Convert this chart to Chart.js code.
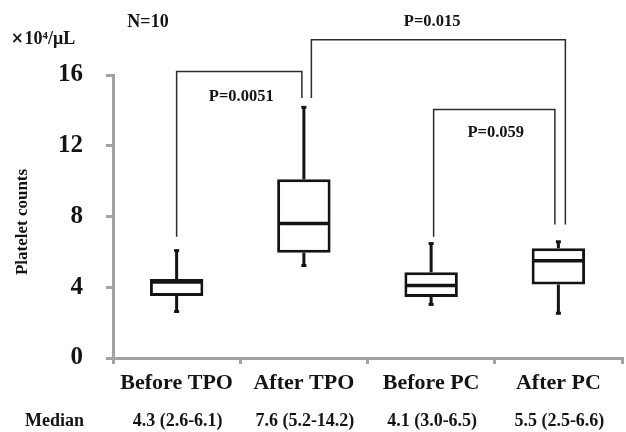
<!DOCTYPE html>
<html>
<head>
<meta charset="utf-8">
<script src="https://cdn.jsdelivr.net/npm/chart.js@4"></script>
<style>
html,body{margin:0;padding:0;background:#fff;}
canvas{display:block;}
</style>
</head>
<body>
<canvas id="c" width="626" height="432"></canvas>
<script>
const categories = ['Before TPO', 'After TPO', 'Before PC', 'After PC'];
const mins    = [2.6, 5.2, 3.0, 2.5];
const q1s     = [3.5, 5.95, 3.45, 4.15];
const medians = [4.3, 7.6, 4.1, 5.5];
const q3s     = [4.47, 10.1, 4.85, 6.2];
const maxs    = [6.1, 14.2, 6.5, 6.6];
const yTicks  = [0, 4, 8, 12, 16];
const sampleLabel = 'N=10';
const unitMult = '×';
const unitLabel = '10⁴/μL';
const yTitle = 'Platelet counts';
const medianRowTitle = 'Median';
// significance brackets
const bracketFrom   = [0, 1, 2];
const bracketTo     = [1, 3, 3];
const bracketTop    = [16.2, 18.0, 14.05];
const bracketLeftEnd  = [6.85, 14.7, 6.85];
const bracketRightEnd = [14.7, 7.55, 7.55];
const bracketLabels = ['P=0.0051', 'P=0.015', 'P=0.059'];
const bracketLabelY = [14.75, 19.0, 12.72];

const SERIF = '"Liberation Serif", "Times New Roman", serif';
const SANS = '"DejaVu Sans", sans-serif';
const INK = '#141414';
const AXIS = '#a3a3a3';

const boxPlugin = {
  id: 'boxExtras',
  beforeDatasetsDraw(chart) {
    const ctx = chart.ctx, xs = chart.scales.x, ys = chart.scales.y;
    ctx.save();
    ctx.strokeStyle = INK; ctx.fillStyle = INK; ctx.lineWidth = 3;
    categories.forEach((c, i) => {
      const x = xs.getPixelForValue(i);
      ctx.beginPath();
      ctx.moveTo(x, ys.getPixelForValue(q3s[i]));
      ctx.lineTo(x, ys.getPixelForValue(maxs[i]));
      ctx.moveTo(x, ys.getPixelForValue(q1s[i]));
      ctx.lineTo(x, ys.getPixelForValue(mins[i]));
      ctx.stroke();
      ctx.fillRect(x - 2.5, ys.getPixelForValue(maxs[i]) - 1, 5, 3);
      ctx.fillRect(x - 2.5, ys.getPixelForValue(mins[i]) - 2, 5, 3);
    });
    ctx.restore();
  },
  afterDatasetsDraw(chart) {
    const ctx = chart.ctx, xs = chart.scales.x, ys = chart.scales.y;
    const meta = chart.getDatasetMeta(0);
    ctx.save();
    // medians
    ctx.strokeStyle = INK; ctx.lineWidth = 3.5;
    categories.forEach((c, i) => {
      const bar = meta.data[i];
      const x = xs.getPixelForValue(i), w = bar.width;
      const y = ys.getPixelForValue(medians[i]);
      ctx.beginPath();
      ctx.moveTo(x - w / 2 + 1, y); ctx.lineTo(x + w / 2 - 1, y);
      ctx.stroke();
    });
    // brackets
    const legShift = [[0, -2], [7.5, 7], [2.5, -3.5]];
    ctx.strokeStyle = '#2b2b2b'; ctx.lineWidth = 1.5;
    bracketFrom.forEach((f, k) => {
      const xl = xs.getPixelForValue(f) + legShift[k][0];
      const xr = xs.getPixelForValue(bracketTo[k]) + legShift[k][1];
      const yt = ys.getPixelForValue(bracketTop[k]);
      ctx.beginPath();
      ctx.moveTo(xl, ys.getPixelForValue(bracketLeftEnd[k]));
      ctx.lineTo(xl, yt); ctx.lineTo(xr, yt);
      ctx.lineTo(xr, ys.getPixelForValue(bracketRightEnd[k]));
      ctx.stroke();
    });
    ctx.fillStyle = INK;
    ctx.textAlign = 'center'; ctx.textBaseline = 'middle';
    ctx.font = 'bold 16.5px ' + SERIF;
    bracketFrom.forEach((f, k) => {
      const xm = (xs.getPixelForValue(f) + xs.getPixelForValue(bracketTo[k])) / 2;
      ctx.fillText(bracketLabels[k], xm + 1, ys.getPixelForValue(bracketLabelY[k]));
    });
    // header texts
    ctx.font = 'bold 18px ' + SERIF;
    ctx.fillText(sampleLabel, 148, 22);
    ctx.textAlign = 'left';
    ctx.font = 'bold 15px ' + SANS;
    ctx.fillText(unitMult, 11, 39);
    const mw = ctx.measureText(unitMult).width;
    ctx.font = 'bold 18px ' + SERIF;
    ctx.fillText(unitLabel, 12 + mw, 39);
    // y title
    ctx.save();
    ctx.translate(23, 222);
    ctx.rotate(-Math.PI / 2);
    ctx.textAlign = 'center';
    ctx.font = 'bold 17px ' + SERIF;
    ctx.fillText(yTitle, 0, 0);
    ctx.restore();
    // median row
    ctx.font = 'bold 18px ' + SERIF;
    ctx.textAlign = 'left';
    ctx.fillText(medianRowTitle, 25, 421);
    ctx.textAlign = 'center';
    categories.forEach((c, i) => {
      const t = medians[i].toFixed(1) + ' (' + mins[i].toFixed(1) + '-' + maxs[i].toFixed(1) + ')';
      ctx.fillText(t, xs.getPixelForValue(i) + 1, 421);
    });
    ctx.restore();
  }
};

new Chart(document.getElementById('c'), {
  type: 'bar',
  data: {
    labels: categories,
    datasets: [{
      data: categories.map((c, i) => [q1s[i], q3s[i]]),
      backgroundColor: '#ffffff',
      borderColor: INK,
      borderWidth: 3,
      borderSkipped: false,
      categoryPercentage: 1,
      barPercentage: 0.42
    }]
  },
  options: {
    responsive: false,
    animation: false,
    events: [],
    layout: { padding: { top: 75, right: 4, left: 0, bottom: 0 } },
    plugins: { legend: { display: false }, tooltip: { enabled: false } },
    scales: {
      x: {
        grid: { drawOnChartArea: false, tickLength: 6, color: AXIS, lineWidth: 3 },
        border: { color: AXIS, width: 3 },
        ticks: { color: INK, font: { family: SERIF, size: 22, weight: 'bold' }, padding: 6, maxRotation: 0 },
        afterFit(s) { s.height = 74; }
      },
      y: {
        min: 0, max: 16,
        afterBuildTicks(s) { s.ticks = yTicks.map(v => ({ value: v })); },
        grid: { drawOnChartArea: false, tickLength: 7, color: AXIS, lineWidth: 3 },
        border: { color: AXIS, width: 3 },
        ticks: { color: INK, font: { family: SERIF, size: 25, weight: 'bold' }, padding: 23 },
        afterFit(s) { s.width = 113; }
      }
    }
  },
  plugins: [boxPlugin]
});
</script>
</body>
</html>
